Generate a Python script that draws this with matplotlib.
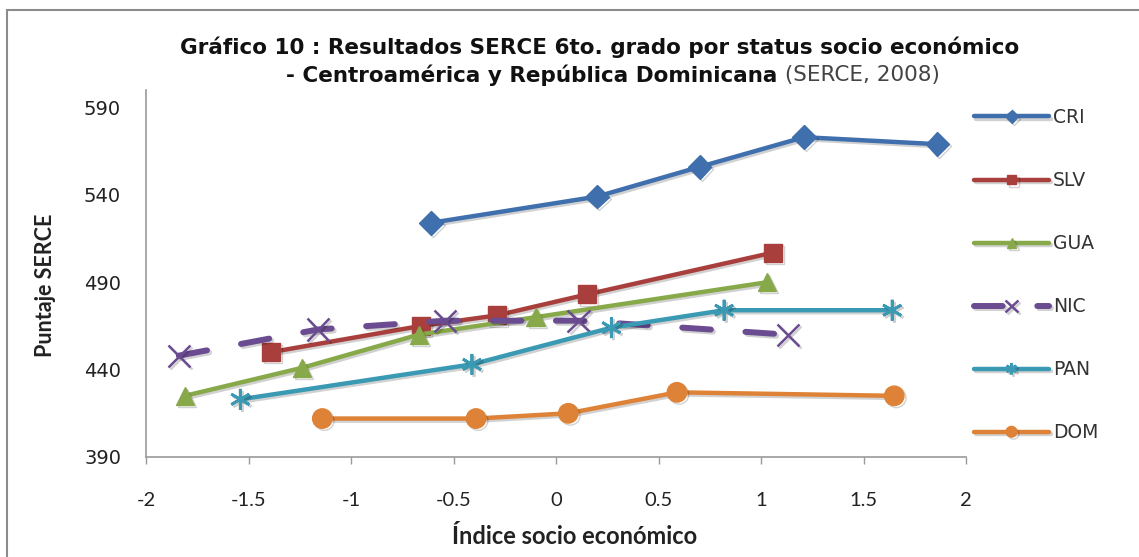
import matplotlib
matplotlib.use("Agg")
import matplotlib.pyplot as plt
import matplotlib.patheffects as pe
from matplotlib.patches import Rectangle

# Data
cri_x = [-0.61, 0.20, 0.70, 1.21, 1.86]
cri_y = [524, 539, 556, 573, 569]

slv_x = [-1.39, -0.66, -0.29, 0.15, 1.06]
slv_y = [450, 465, 471, 483, 507]

gua_x = [-1.81, -1.24, -0.67, -0.10, 1.03]
gua_y = [425, 441, 460, 470, 490]

nic_x = [-1.84, -1.16, -0.54, 0.11, 1.13]
nic_y = [448, 463, 468, 468, 460]

pan_x = [-1.54, -0.41, 0.27, 0.82, 1.64]
pan_y = [423, 443, 464, 474, 474]

dom_x = [-1.14, -0.39, 0.06, 0.59, 1.65]
dom_y = [412, 412, 415, 427, 425]

x_ticks = [-2, -1.5, -1, -0.5, 0, 0.5, 1, 1.5, 2]
x_tick_labels = ["-2", "-1.5", "-1", "-0.5", "0", "0.5", "1", "1.5", "2"]
y_ticks = [390, 440, 490, 540, 590]

W, H = 1139, 557
fig = plt.figure(figsize=(W / 100, H / 100), dpi=100)
ax = fig.add_axes([146 / W, 1 - 457 / H, (966 - 146) / W, (457 - 90) / H])

shadow = [pe.SimpleLineShadow(offset=(1.5, -1.5), alpha=0.18, shadow_color="black"), pe.Normal()]

series = [
    ("CRI", cri_x, cri_y, "#3F6FAD", "D", 12, dict()),
    ("SLV", slv_x, slv_y, "#A93F3C", "s", 13, dict()),
    ("GUA", gua_x, gua_y, "#87A94A", "^", 13, dict()),
    ("NIC", nic_x, nic_y, "#6B4C91", "x", 16, dict(linestyle=(0, (4.8, 5.8)), lw=4.3, dash_capstyle="round", mew=1.8)),
    ("PAN", pan_x, pan_y, "#3A99B3", (6, 2, 0), 15, dict(mew=2.0)),
    ("DOM", dom_x, dom_y, "#DD8236", "o", 14, dict()),
]

for name, xs, ys, col, mk, ms, extra in series:
    kw = dict(lw=3.2, solid_capstyle="round")
    kw.update(extra)
    ax.plot(xs, ys, color=col, marker=mk, markersize=ms, markeredgecolor=col,
            markerfacecolor=col, label=name, path_effects=shadow, **kw)

ax.set_xlim(-2, 2)
ax.set_ylim(390, 600)
ax.set_xticks(x_ticks)
ax.set_xticklabels(x_tick_labels, fontfamily="Lato", fontsize=14.5)
ax.set_yticks(y_ticks)
ax.tick_params(axis="y", length=0, pad=18, labelsize=14, labelcolor="#222222")
ax.tick_params(axis="x", length=5, width=1, color="#999999", pad=20, labelcolor="#222222")
for s in ["top", "right"]:
    ax.spines[s].set_visible(False)
for s in ["left", "bottom"]:
    ax.spines[s].set_color("#999999")
    ax.spines[s].set_linewidth(1.2)

# Axis titles
fig.text(45 / W, 1 - 285 / H, "Puntaje SERCE", rotation=90, ha="center", va="center",
         fontfamily="Lato", fontweight="bold", fontsize=15.5, color="#222222")
fig.text(575 / W, 1 - 537 / H, "Índice socio económico", ha="center", va="center",
         fontfamily="Lato", fontweight="bold", fontsize=17, color="#222222")

# Title (second line mixes bold and normal)
fig.text(600 / W, 1 - 47 / H, "Gráfico 10 : Resultados SERCE 6to. grado por status socio económico",
         ha="center", va="center", fontweight="bold", fontsize=15.5, color="#111111")
t_bold = fig.text(0, 1 - 75 / H, "- Centroamérica y República Dominicana", ha="left", va="center",
                  fontweight="bold", fontsize=15.5, color="#111111")
t_norm = fig.text(0, 1 - 75 / H, " (SERCE, 2008)", ha="left", va="center",
                  fontsize=15.5, color="#444444")
fig.canvas.draw()
r = fig.canvas.get_renderer()
w1 = t_bold.get_window_extent(r).width
w2 = t_norm.get_window_extent(r).width
x0 = 613 - (w1 + w2) / 2
t_bold.set_x(x0 / W)
t_norm.set_x((x0 + w1) / W)

# Legend
leg = fig.legend(loc="upper left", bbox_to_anchor=(974 / W, 1 - 108 / H), frameon=False,
                 fontsize=13.5, handlelength=4.0, handletextpad=0.2, labelspacing=2.35,
                 borderpad=0, borderaxespad=0, markerscale=0.55)
for t in leg.get_texts():
    t.set_color("#333333")

# Outer chart frame
fig.patches.append(Rectangle((7 / W, -0.1), 1.1, 1 - 10 / H + 0.1, transform=fig.transFigure,
                             fill=False, edgecolor="#8c8c8c", lw=1.5))

fig.savefig("out.png", dpi=100)
